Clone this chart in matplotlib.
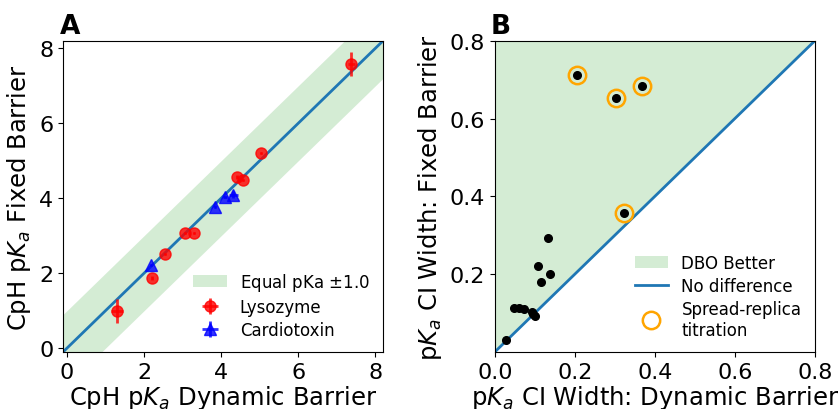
import numpy as np
import matplotlib
matplotlib.use("Agg")
import matplotlib.pyplot as plt

# Panel A: pKa values, dynamic vs fixed barrier
lyso_dyn = [1.30, 2.21, 2.54, 3.07, 3.30, 4.41, 4.57, 5.03, 7.38]
lyso_fix = [0.99, 1.88, 2.52, 3.08, 3.08, 4.57, 4.48, 5.20, 7.58]
lyso_xerr = [0.15, 0.03, 0.03, 0.03, 0.03, 0.03, 0.03, 0.03, 0.10]
lyso_yerr = [0.32, 0.05, 0.03, 0.03, 0.03, 0.05, 0.03, 0.03, 0.32]

cardio_dyn = [2.19, 3.84, 4.10, 4.32]
cardio_fix = [2.23, 3.78, 4.03, 4.10]
cardio_xerr = [0.03, 0.03, 0.05, 0.12]
cardio_yerr = [0.03, 0.03, 0.03, 0.10]

# Panel B: CI widths
ci_dyn = [0.205, 0.304, 0.368, 0.324, 0.134, 0.108, 0.137, 0.115,
          0.047, 0.060, 0.073, 0.092, 0.100, 0.096, 0.027]
ci_fix = [0.713, 0.652, 0.683, 0.358, 0.292, 0.221, 0.200, 0.181,
          0.113, 0.114, 0.111, 0.103, 0.092, 0.098, 0.032]
spread_dyn = [0.205, 0.304, 0.368, 0.324]
spread_fix = [0.713, 0.652, 0.683, 0.358]

fs_tick = 16
fs_lab = 17.5
fig = plt.figure(figsize=(8.4, 4.1), dpi=100)
axA = fig.add_axes([0.075, 0.139, 0.381, 0.759])
axB = fig.add_axes([0.589, 0.139, 0.381, 0.759])

# --- A ---
lims = np.array([-0.1, 8.2])
axA.fill_between(lims, lims - 1.0, lims + 1.0, color="#2ca02c", alpha=0.2,
                 lw=0, label="Equal pKa $\\pm$1.0")
axA.plot(lims, lims, color="#1f77b4", lw=2)
axA.errorbar(lyso_dyn, lyso_fix, xerr=lyso_xerr, yerr=lyso_yerr, fmt="o",
             color="red", ms=8, elinewidth=2, alpha=0.8, label="Lysozyme")
axA.errorbar(cardio_dyn, cardio_fix, xerr=cardio_xerr, yerr=cardio_yerr, fmt="^",
             color="blue", ms=8, elinewidth=2, alpha=0.8, label="Cardiotoxin")
axA.set_xlim(lims)
axA.set_ylim(lims)
axA.set_xticks([0, 2, 4, 6, 8])
axA.set_yticks([0, 2, 4, 6, 8])
axA.tick_params(labelsize=fs_tick)
axA.set_xlabel("CpH p$K_a$ Dynamic Barrier", fontsize=fs_lab, labelpad=1)
axA.set_ylabel("CpH p$K_a$ Fixed Barrier", fontsize=fs_lab)
axA.legend(loc="lower right", fontsize=12, frameon=False, labelspacing=0.3,
           borderaxespad=0.4)
axA.text(-0.01, 1.005, "A", transform=axA.transAxes, fontsize=19,
         fontweight="bold", va="bottom", ha="left")

# --- B ---
xb = np.array([0.0, 0.8])
axB.fill_between(xb, xb, 0.8, color="#2ca02c", alpha=0.2, lw=0, label="DBO Better")
axB.plot(xb, xb, color="#1f77b4", lw=2, label="No difference")
axB.plot(spread_dyn, spread_fix, "o", ms=12.5, mfc="none", mec="orange", mew=1.8,
         label="Spread-replica\ntitration")
axB.plot(ci_dyn, ci_fix, "o", color="black", ms=5.5)
axB.set_xlim(0, 0.8)
axB.set_ylim(0, 0.8)
axB.set_xticks([0.0, 0.2, 0.4, 0.6, 0.8])
axB.set_yticks([0.2, 0.4, 0.6, 0.8])
axB.tick_params(labelsize=fs_tick)
axB.set_xlabel("p$K_a$ CI Width: Dynamic Barrier", fontsize=fs_lab, labelpad=1)
axB.set_ylabel("p$K_a$ CI Width: Fixed Barrier", fontsize=fs_lab)
axB.legend(loc="lower right", fontsize=12, frameon=False, labelspacing=0.3,
           borderaxespad=0.4)
axB.text(-0.014, 1.005, "B", transform=axB.transAxes, fontsize=19,
         fontweight="bold", va="bottom", ha="left")

fig.savefig("out.png", dpi=100)
